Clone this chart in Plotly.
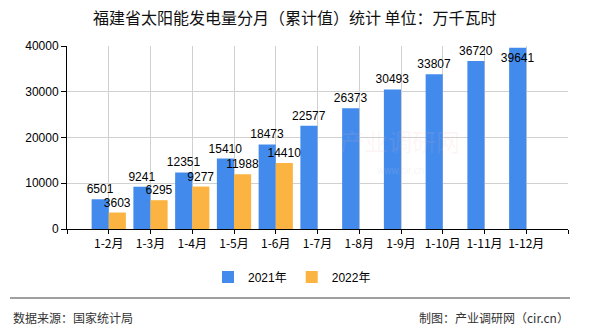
import plotly.graph_objects as go

# Monthly cumulative solar generation, Fujian (10k kWh)
categories = ["1-2月", "1-3月", "1-4月", "1-5月", "1-6月", "1-7月",
              "1-8月", "1-9月", "1-10月", "1-11月", "1-12月"]
values_2021 = [6501, 9241, 12351, 15410, 18473, 22577,
               26373, 30493, 33807, 36720, 39641]
values_2022 = [3603, 6295, 9277, 11988, 14410]
series_names = ["2021年", "2022年"]
y_ticks = [0, 10000, 20000, 30000, 40000]
y_tick_labels = ["0", "10000", "20000", "30000", "40000"]

title_text = "福建省太阳能发电量分月（累计值）统计 单位：万千瓦时"
source_text = "数据来源：国家统计局"
maker_text = "制图：产业调研网（cir.cn）"

BLUE = "#428BED"
ORANGE = "#FBB441"
FONT = "Liberation Sans, Noto Sans CJK SC, sans-serif"
CJK = "Noto Sans CJK SC, sans-serif"

# plot-area geometry in pixels
L, R, T, B = 67, 568, 46, 229
PW, PH = R - L, B - T


def px_x(x):
    return (x - L) / PW


def px_y(y):
    return (B - y) / PH


x_idx = list(range(len(categories)))

# the tallest bar's label sits inside the top of the bar
pos_2021 = ["outside"] * (len(values_2021) - 1) + ["inside"]

fig = go.Figure()
fig.add_trace(go.Bar(
    x=x_idx, y=values_2021, name=series_names[0],
    marker=dict(color=BLUE, line=dict(width=0)),
    text=[str(v) for v in values_2021], textposition=pos_2021,
    insidetextanchor="end", textangle=0,
    textfont=dict(family=FONT, size=12, color="#000000"),
    insidetextfont=dict(family=FONT, size=12, color="#000000"),
    outsidetextfont=dict(family=FONT, size=12, color="#000000"),
    constraintext="none", cliponaxis=False,
))
fig.add_trace(go.Bar(
    x=x_idx[:len(values_2022)], y=values_2022, name=series_names[1],
    marker=dict(color=ORANGE, line=dict(width=0)),
    text=[str(v) for v in values_2022], textposition="outside",
    textangle=0,
    textfont=dict(family=FONT, size=12, color="#000000"),
    constraintext="none", cliponaxis=False,
))

tick_positions = list(range(-1, len(categories) + 1))
tick_labels = [""] + categories + [""]

fig.update_layout(
    width=590, height=330,
    margin=dict(l=L, r=590 - R, t=T, b=330 - B),
    paper_bgcolor="#FFFFFF", plot_bgcolor="#FFFFFF",
    barmode="group", bargap=0.18, bargroupgap=0,
    font=dict(family=FONT, size=12, color="#000000"),
    showlegend=True,
    legend=dict(orientation="h", x=px_x(292), xanchor="center",
                y=px_y(277), yanchor="middle",
                font=dict(family=FONT, size=12, color="#000000"),
                itemwidth=30, traceorder="normal"),
    xaxis=dict(
        range=[-1, len(categories)],
        tickmode="array", tickvals=tick_positions, ticktext=tick_labels,
        showgrid=True, gridcolor="#D0D0D0", gridwidth=1,
        showline=True, linecolor="#000000", linewidth=1,
        ticks="outside", ticklen=4, tickcolor="#000000",
        tickfont=dict(family=CJK, size=12, color="#000000"),
        zeroline=False,
    ),
    yaxis=dict(
        range=[0, 40000],
        tickmode="array", tickvals=y_ticks, ticktext=y_tick_labels,
        showgrid=True, gridcolor="#D0D0D0", gridwidth=1,
        showline=True, linecolor="#000000", linewidth=1,
        ticks="outside", ticklen=5, tickcolor="#000000",
        tickfont=dict(family=FONT, size=12, color="#000000"),
        zeroline=False,
    ),
    annotations=[
        dict(text=title_text, xref="paper", yref="paper",
             x=px_x(294.5), xanchor="center",
             y=px_y(17), yanchor="middle", showarrow=False,
             font=dict(family=CJK, size=16, color="#111111")),
        dict(text=source_text, xref="paper", yref="paper",
             x=px_x(11), xanchor="left",
             y=px_y(317), yanchor="middle", showarrow=False,
             font=dict(family=CJK, size=12, color="#333333")),
        dict(text=maker_text, xref="paper", yref="paper",
             x=px_x(571), xanchor="right",
             y=px_y(317), yanchor="middle", showarrow=False,
             font=dict(family=CJK, size=12, color="#333333")),
        # faint watermark
        dict(text="产业调研网", xref="paper", yref="paper",
             x=px_x(400), xanchor="center",
             y=px_y(140), yanchor="middle", showarrow=False,
             font=dict(family=CJK, size=24, color="rgba(240,180,180,0.12)")),
        dict(text="www.cir.cn", xref="paper", yref="paper",
             x=px_x(400), xanchor="center",
             y=px_y(170), yanchor="middle", showarrow=False,
             font=dict(family=FONT, size=10, color="rgba(200,200,200,0.2)")),
    ],
    shapes=[
        dict(type="line", xref="paper", yref="paper",
             x0=px_x(10), x1=px_x(570), y0=px_y(298), y1=px_y(298),
             line=dict(color="#808080", width=1.5)),
    ],
)

fig.write_html("out.html")
